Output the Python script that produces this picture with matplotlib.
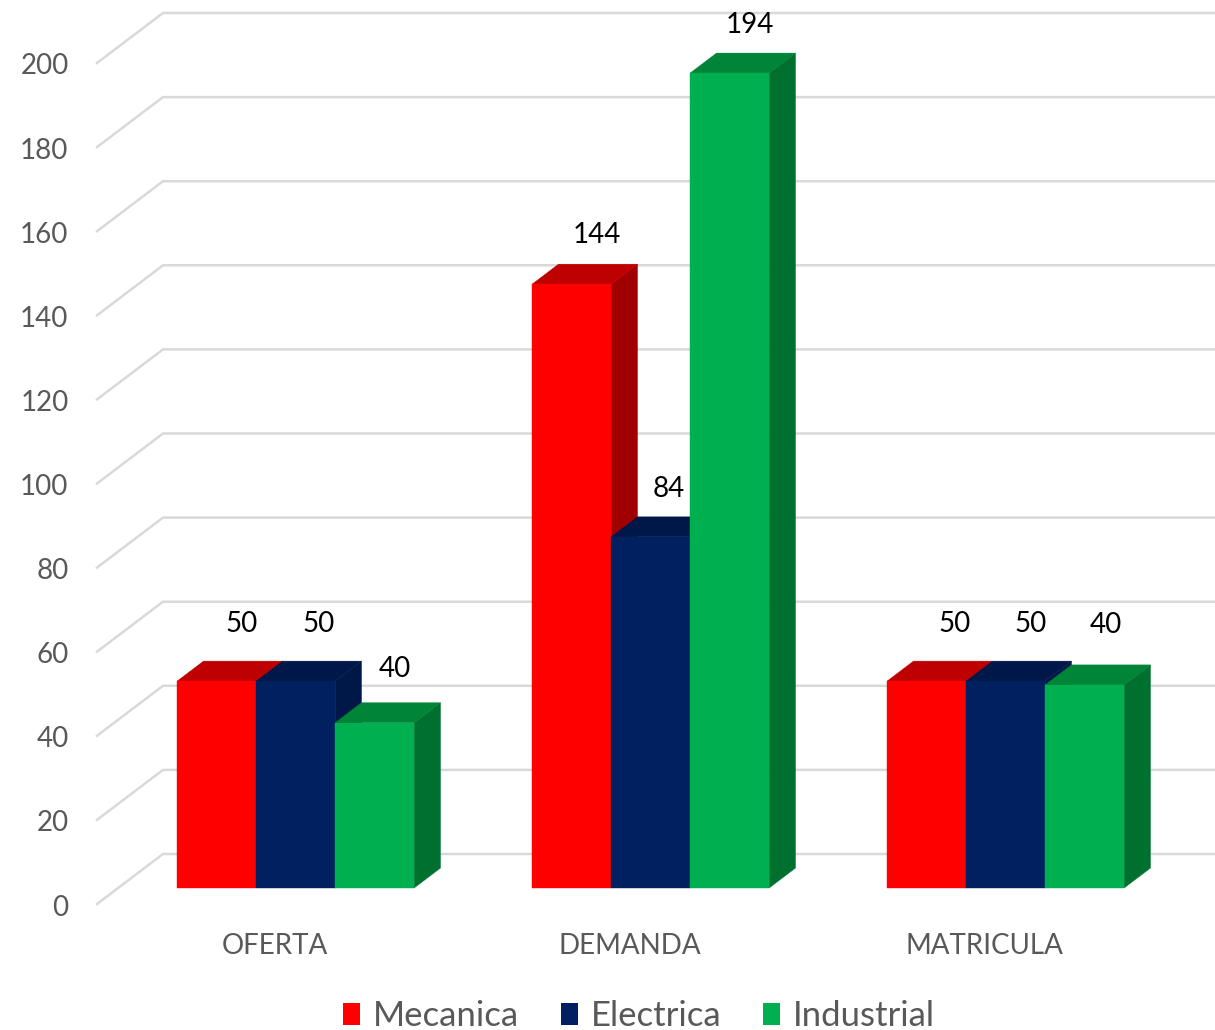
import matplotlib
matplotlib.use("Agg")
import matplotlib.pyplot as plt
from matplotlib.patches import Patch, Polygon
from matplotlib.transforms import ScaledTranslation

plt.rcParams["font.family"] = ["Lato", "DejaVu Sans"]

# Datos
categorias = ["OFERTA", "DEMANDA", "MATRICULA"]
series = ["Mecanica", "Electrica", "Industrial"]
mecanica = [49.2, 143.6, 49.2]
electrica = [49.2, 83.5, 49.2]
industrial = [39.3, 193.8, 48.3]
etiq_mecanica = [50, 144, 50]
etiq_electrica = [50, 84, 50]
etiq_industrial = [40, 194, 40]
yticks = list(range(0, 201, 20))

# Colores: frente, tapa, lateral
colores = [("#FF0000", "#BE0000", "#A00000"),
           ("#002060", "#00174A", "#001848"),
           ("#00B050", "#008438", "#00702F")]
gris_texto = "#595959"
gris_linea = "#D9D9D9"

W, H = 1215, 1030
fig = plt.figure(figsize=(W / 100, H / 100), dpi=100)
ax = fig.add_axes([97 / W, 1 - 904 / H, 1065 / W, 841 / H])
ax.set_xlim(-0.5, 2.5)
ax.set_ylim(0, 200)
for s in ax.spines.values():
    s.set_visible(False)
ax.patch.set_visible(False)

# Proyeccion oblicua: profundidad 1 = fondo de la pared
px_x = 355  # pixeles por categoria
px_y = 841 / 200
fondo_x = 66 / px_x
fondo_y = 50 / px_y


def proy(x, y, d):
    return x + d * fondo_x, y + d * fondo_y


# Lineas de la cuadricula
for v in yticks:
    x0, y0 = proy(-0.5, v, 0)
    x1, y1 = proy(-0.5, v, 1)
    ax.plot([x0, x1, 3.0], [y0, y1, y1], color=gris_linea, lw=1.8,
            clip_on=False, zorder=1, solid_joinstyle="miter")

# Barras
ancho = 79 / px_x
d0, d1 = 0.32, 0.72
valores = [mecanica, electrica, industrial]
etiquetas = [etiq_mecanica, etiq_electrica, etiq_industrial]
# Desplazamiento de cada etiqueta respecto a la barra, en pixeles
sep_x = [[25, 25, 28], [23, 18, 25], [20, 20, 21]]
sep_y = [[60, 52, 60], [60, 51, 60], [57, 51, 63]]
z = 2
for g in range(len(categorias)):
    for i in range(len(series)):
        v = valores[i][g]
        xa = g + (i - 1.5) * ancho
        xb = xa + ancho
        frente, tapa, lateral = colores[i]
        lado = [proy(xb, 0, d0), proy(xb, 0, d1), proy(xb, v, d1), proy(xb, v, d0)]
        arriba = [proy(xa, v, d0), proy(xb, v, d0), proy(xb, v, d1), proy(xa, v, d1)]
        cara = [proy(xa, 0, d0), proy(xb, 0, d0), proy(xb, v, d0), proy(xa, v, d0)]
        for pts, c in [(lado, lateral), (arriba, tapa), (cara, frente)]:
            ax.add_patch(Polygon(pts, closed=True, fc=c, ec=c, lw=0.3,
                                 zorder=z, clip_on=False))
            z += 1
        cx, cy = proy((xa + xb) / 2, v, d0)
        ax.annotate(str(etiquetas[i][g]), (cx, cy),
                    xytext=(sep_x[i][g] * 0.72, (sep_y[i][g] - 3) * 0.72),
                    textcoords="offset points", ha="center", va="center",
                    fontsize=20, color="black", zorder=100,
                    annotation_clip=False)

ax.set_yticks(yticks)
ax.set_xticks(range(len(categorias)))
ax.set_xticklabels(categorias)
ax.tick_params(axis="y", length=0, pad=20.5, labelsize=20, labelcolor=gris_texto)
ax.tick_params(axis="x", length=0, pad=21, labelsize=20, labelcolor=gris_texto)
bajar = ScaledTranslation(0, -1 / 100, fig.dpi_scale_trans)
for t in ax.get_yticklabels():
    t.set_transform(t.get_transform() + bajar)

# Leyenda
handles = [Patch(fc=c[0], ec=c[0], lw=0) for c in colores]
fig.legend(handles, series, loc="center", bbox_to_anchor=(639 / W, 1 - 1016 / H),
           ncol=3, frameon=False, fontsize=25, labelcolor=gris_texto,
           handlelength=0.49, handleheight=0.6, handletextpad=0.37,
           columnspacing=1.2, borderpad=0, borderaxespad=0)

fig.savefig("out.png", dpi=100)
